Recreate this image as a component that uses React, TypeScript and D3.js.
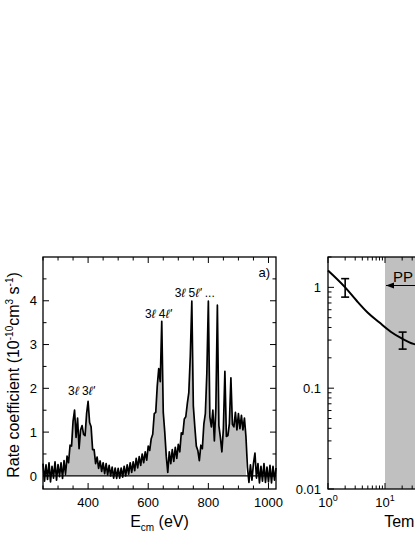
import React from 'react';
import * as d3 from 'd3';

// ---------- Panel a) data ----------
const E_START = 250;
const E_STEP = 5;
const rateValues = [
  // 250-325
  0.28, -0.12, 0.25, -0.08, 0.30, -0.14, 0.22, -0.05, 0.32, -0.10, 0.26, -0.02, 0.30, -0.06, 0.35, 0.02,
  // 330-445
  0.45, 0.30, 0.70, 0.68, 1.25, 1.50, 0.88, 1.32, 0.62, 1.05, 1.15, 0.95, 0.92, 1.42, 1.70, 1.22,
  1.12, 0.60, 0.60, 0.28, 0.43, 0.17, 0.34, 0.10,
  // 450-600
  0.30, 0.05, 0.28, 0.02, 0.24, 0.00, 0.20, -0.05, 0.18, -0.06, 0.17, -0.05, 0.18, -0.03, 0.22, 0.00,
  0.25, 0.04, 0.30, 0.08, 0.32, 0.12, 0.40, 0.18, 0.44, 0.24, 0.50, 0.30, 0.55, 0.36, 0.68,
  // 605-700
  0.58, 0.85, 0.95, 1.42, 1.45, 2.05, 2.45, 2.15, 3.53, 1.45, 1.00, 0.45, 0.08, 0.55, 0.28, 0.60,
  0.33, 0.65, 0.40, 0.72,
  // 705-800
  0.55, 0.98, 0.95, 1.30, 1.35, 1.65, 1.90, 2.75, 3.99, 1.60, 1.12, 0.68, 0.58, 0.35, 0.70, 0.62,
  1.18, 1.42, 2.35, 3.99,
  // 805-925
  1.35, 1.12, 1.50, 0.80, 1.55, 3.90, 1.15, 0.88, 0.55, 1.08, 2.39, 0.90, 0.92, 1.20, 2.24, 1.18,
  1.12, 1.45, 1.05, 1.42, 1.08, 1.38, 1.05, 1.32, 0.90,
  // 930-1025
  0.20, -0.15, 0.25, -0.10, 0.28, 0.52, -0.05, 0.28, -0.16, 0.22, -0.12, 0.28, -0.15, 0.20, -0.14,
  0.24, -0.16, 0.22, -0.10, 0.18,
];
const FILL_FROM = 330;
const FILL_TO = 925;
const energyTickLabels = [400, 600, 800, 1000];
const energyMinorTicks = [250, 300, 350, 450, 500, 550, 650, 700, 750, 850, 900, 950];
const rateTickLabels = [0, 1, 2, 3, 4];
const rateMinorTicks = [0.5, 1.5, 2.5, 3.5, 4.5];
const peakLabelE = [333, 589, 688];
const peakLabelV = [1.85, 3.61, 4.09];
const peakLabelN = ['3', '4', '5'];

// ---------- Panel b) data ----------
const tempCurveT = [1, 2, 3.16, 5, 7.9, 12.6, 20, 31.6, 50, 100];
const tempCurveK = [1.47, 1.0, 0.74, 0.56, 0.45, 0.363, 0.31, 0.275, 0.263, 0.257];
const errT = [2, 20.4];
const errLo = [0.80, 0.244];
const errHi = [1.22, 0.36];
const ppRange = [10, 300];
const tempDecades = [1, 10, 100, 1000, 10000];
const kDecades = [0.01, 0.1, 1];

const FONT = 'Arial, "Liberation Sans", Helvetica, sans-serif';
const VIEW_W = 415;

export default function App() {
  const L = { left: 43, right: 276, top: 257, bottom: 489 };
  const x = d3.scaleLinear().domain([250, 1025]).range([L.left, L.right]);
  const y = d3.scaleLinear().domain([-0.3, 5.0]).range([L.bottom, L.top]);
  const pts = rateValues.map((v, i) => ({ e: E_START + i * E_STEP, v }));
  const line = d3.line<{ e: number; v: number }>().x(d => x(d.e)).y(d => y(d.v));
  const area = d3
    .area<{ e: number; v: number }>()
    .x(d => x(d.e))
    .y0(y(0))
    .y1(d => y(Math.max(d.v, 0)));
  const fillPts = pts.filter(d => d.e >= FILL_FROM && d.e <= FILL_TO);

  const R = { left: 328, right: 556, top: 257, bottom: 489 };
  const xr = d3.scaleLog().domain([1, 1e4]).range([R.left, R.right]);
  const yr = d3.scaleLog().domain([0.01, 2]).range([R.bottom, R.top]);
  const curve = d3
    .line<number>()
    .x((_, i) => xr(tempCurveT[i]))
    .y(d => yr(d))
    .curve(d3.curveMonotoneX);
  const xMinorR: number[] = [];
  for (let d = 0; d < tempDecades.length - 1; d++)
    for (let m = 2; m <= 9; m++) xMinorR.push(tempDecades[d] * m);
  const yMinorR: number[] = [];
  for (let d = 0; d < kDecades.length; d++)
    for (let m = 2; m <= 9; m++) {
      const v = kDecades[d] * m;
      if (v <= 2) yMinorR.push(v);
    }

  const majorLen = 6;
  const minorLen = 3.5;

  return (
    <svg
      width={415}
      height={537}
      style={{ position: 'absolute', left: 0, top: 0, background: '#fff' }}
      fontFamily={FONT}
    >
      {/* ---------- Left panel ---------- */}
      <path d={area(fillPts) || ''} fill="#c0c0c0" stroke="none" />
      <line x1={L.left} x2={L.right} y1={y(0)} y2={y(0)} stroke="#000" strokeWidth={1.2} />
      <path d={line(pts) || ''} fill="none" stroke="#000" strokeWidth={1.7} strokeLinejoin="round" />
      <rect x={L.left} y={L.top} width={L.right - L.left} height={L.bottom - L.top} fill="none" stroke="#000" strokeWidth={1.3} />
      {energyTickLabels.map(t => (
        <g key={'xt' + t}>
          <line x1={x(t)} x2={x(t)} y1={L.bottom} y2={L.bottom - majorLen} stroke="#000" strokeWidth={1} />
          <line x1={x(t)} x2={x(t)} y1={L.top} y2={L.top + majorLen} stroke="#000" strokeWidth={1} />
          <text x={x(t)} y={507} fontSize={13} textAnchor="middle">{t}</text>
        </g>
      ))}
      {energyMinorTicks.map(t => (
        <g key={'xm' + t}>
          <line x1={x(t)} x2={x(t)} y1={L.bottom} y2={L.bottom - minorLen} stroke="#000" strokeWidth={1} />
          <line x1={x(t)} x2={x(t)} y1={L.top} y2={L.top + minorLen} stroke="#000" strokeWidth={1} />
        </g>
      ))}
      {rateTickLabels.map(t => (
        <g key={'yt' + t}>
          <line x1={L.left} x2={L.left + majorLen} y1={y(t)} y2={y(t)} stroke="#000" strokeWidth={1} />
          <line x1={L.right} x2={L.right - majorLen} y1={y(t)} y2={y(t)} stroke="#000" strokeWidth={1} />
          <text x={37} y={y(t)} dy="0.36em" fontSize={13} textAnchor="end">{t}</text>
        </g>
      ))}
      {rateMinorTicks.map(t => (
        <g key={'ym' + t}>
          <line x1={L.left} x2={L.left + minorLen} y1={y(t)} y2={y(t)} stroke="#000" strokeWidth={1} />
          <line x1={L.right} x2={L.right - minorLen} y1={y(t)} y2={y(t)} stroke="#000" strokeWidth={1} />
        </g>
      ))}
      {peakLabelE.map((e, i) => (
        <text key={'pl' + i} x={x(e)} y={y(peakLabelV[i])} fontSize={12}>
          3<tspan fontStyle="italic">ℓ</tspan> {peakLabelN[i]}
          <tspan fontStyle="italic">ℓ'</tspan>
          {i === 2 ? ' ...' : ''}
        </text>
      ))}
      <text x={270} y={277} fontSize={13} textAnchor="end">a)</text>
      <text x={(L.left + L.right) / 2} y={527} fontSize={16} textAnchor="middle">
        E<tspan fontSize={10} dy={4}>cm</tspan>
        <tspan dy={-4}> (eV)</tspan>
      </text>
      <text transform={`translate(19, ${(L.top + L.bottom) / 2 + 2}) rotate(-90)`} fontSize={16} textAnchor="middle">
        Rate coefficient (10<tspan fontSize={10} dy={-6}>-10</tspan>
        <tspan dy={6}>cm</tspan>
        <tspan fontSize={10} dy={-6}>3</tspan>
        <tspan dy={6}> s</tspan>
        <tspan fontSize={10} dy={-6}>-1</tspan>
        <tspan dy={6}>)</tspan>
      </text>

      {/* ---------- Right panel ---------- */}
      <rect x={xr(ppRange[0])} y={R.top} width={xr(ppRange[1]) - xr(ppRange[0])} height={R.bottom - R.top} fill="#c0c0c0" />
      <path d={curve(tempCurveK) || ''} fill="none" stroke="#000" strokeWidth={2} />
      {errT.map((t, i) => (
        <g key={'eb' + i} stroke="#000" strokeWidth={1.6}>
          <line x1={xr(t)} x2={xr(t)} y1={yr(errLo[i])} y2={yr(errHi[i])} />
          <line x1={xr(t) - 4} x2={xr(t) + 4} y1={yr(errLo[i])} y2={yr(errLo[i])} />
          <line x1={xr(t) - 4} x2={xr(t) + 4} y1={yr(errHi[i])} y2={yr(errHi[i])} />
        </g>
      ))}
      <line x1={xr(ppRange[0]) + 1} x2={xr(ppRange[1]) - 1} y1={285.5} y2={285.5} stroke="#000" strokeWidth={1} />
      <path d={`M${xr(ppRange[0]) + 1},285.5 l8,-3 l0,6 z`} fill="#000" />
      <path d={`M${xr(ppRange[1]) - 1},285.5 l-8,-3 l0,6 z`} fill="#000" />
      <text x={393} y={282} fontSize={15}>PP</text>
      <rect x={R.left} y={R.top} width={R.right - R.left} height={R.bottom - R.top} fill="none" stroke="#000" strokeWidth={1.3} />
      {tempDecades.map((t, i) => (
        <g key={'xrt' + t}>
          <line x1={xr(t)} x2={xr(t)} y1={R.bottom} y2={R.bottom - majorLen} stroke="#000" strokeWidth={1} />
          <line x1={xr(t)} x2={xr(t)} y1={R.top} y2={R.top + majorLen} stroke="#000" strokeWidth={1} />
          {xr(t) < VIEW_W - 10 && (
            <text x={xr(t)} y={507} fontSize={13} textAnchor="middle">
              10<tspan fontSize={9} dy={-6}>{i}</tspan>
            </text>
          )}
        </g>
      ))}
      {xMinorR.map(t => (
        <g key={'xrm' + t}>
          <line x1={xr(t)} x2={xr(t)} y1={R.bottom} y2={R.bottom - minorLen} stroke="#000" strokeWidth={1} />
          <line x1={xr(t)} x2={xr(t)} y1={R.top} y2={R.top + minorLen} stroke="#000" strokeWidth={1} />
        </g>
      ))}
      {kDecades.map(k => (
        <g key={'yrt' + k}>
          <line x1={R.left} x2={R.left + majorLen} y1={yr(k)} y2={yr(k)} stroke="#000" strokeWidth={1} />
          <text x={321} y={yr(k)} dy="0.36em" fontSize={13} textAnchor="end">{k}</text>
        </g>
      ))}
      {yMinorR.map(k => (
        <line key={'yrm' + k} x1={R.left} x2={R.left + minorLen} y1={yr(k)} y2={yr(k)} stroke="#000" strokeWidth={1} />
      ))}
      <text x={(R.left + R.right) / 2} y={527} fontSize={16} textAnchor="middle">Temperature (K)</text>
    </svg>
  );
}
